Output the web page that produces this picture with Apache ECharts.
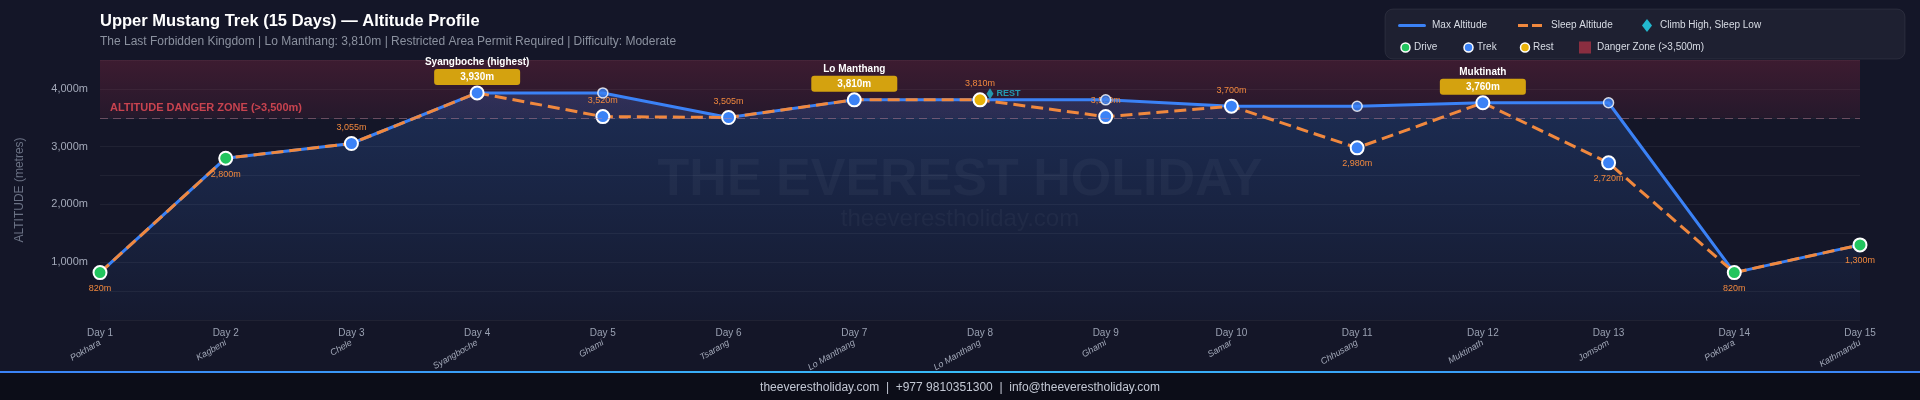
<!DOCTYPE html>
<html>
<head>
<meta charset="utf-8">
<script src="https://cdn.jsdelivr.net/npm/echarts@6/dist/echarts.min.js"></script>
<style>
html,body{margin:0;padding:0;background:#141628;}
#chart{width:1920px;height:400px;}
</style>
</head>
<body>
<div id="chart"></div>
<script>
// ---- data ----
const days = ['Day 1','Day 2','Day 3','Day 4','Day 5','Day 6','Day 7','Day 8','Day 9','Day 10','Day 11','Day 12','Day 13','Day 14','Day 15'];
const places = ['Pokhara','Kagbeni','Chele','Syangboche','Ghami','Tsarang','Lo Manthang','Lo Manthang','Ghami','Samar','Chhusang','Muktinath','Jomsom','Pokhara','Kathmandu'];
const maxAltitude = [820,2800,3055,3930,3930,3505,3810,3810,3810,3700,3700,3760,3760,820,1300];
const sleepAltitude = [820,2800,3055,3930,3520,3505,3810,3810,3520,3700,2980,3760,2720,820,1300];
const dayType = ['drive','drive','trek','trek','trek','trek','trek','rest','trek','trek','trek','trek','trek','drive','drive'];
const badgeTitles = ['','','','Syangboche (highest)','','','Lo Manthang','','','','','Muktinath','','',''];
const dangerLevel = 3500;
const yTicks = [1000,2000,3000,4000];

// ---- styling / building ----
const FONT = 'Liberation Sans, Arial, Helvetica, sans-serif';
const typeColor = {drive:'#22c55e', trek:'#3b82f6', rest:'#eab308'};
const ORANGE = '#f0883e';
const BLUE = '#3b82f6';
const fmt = v => v.toLocaleString('en-US') + 'm';
const belowIdx = new Set([0,1,10,12,13,14]);

const sleepData = sleepAltitude.map((v,i) => {
  const item = {value:v, itemStyle:{color:typeColor[dayType[i]]}};
  if (badgeTitles[i]) {
    item.label = {
      show:true, position:'top', distance:3,
      formatter:'{t|' + badgeTitles[i] + '}\n{b|' + fmt(v) + '}',
      rich:{
        t:{fontSize:10, fontWeight:'bold', color:'#ffffff', fontFamily:FONT, lineHeight:19, align:'center'},
        b:{fontSize:10, fontWeight:'bold', color:'#ffffff', fontFamily:FONT, backgroundColor:'#d4a20f',
           width:78, padding:[3,4], borderRadius:3, lineHeight:11, align:'center'}
      }
    };
  } else {
    item.label = {show:true, position: belowIdx.has(i) ? 'bottom' : 'top', distance:4,
      formatter: fmt(v), color:ORANGE, fontSize:9, fontFamily:FONT};
  }
  return item;
});

const maxPoints = [];
maxAltitude.forEach((v,i) => { if (v !== sleepAltitude[i]) maxPoints.push([i, v]); });
const restPoints = [];
dayType.forEach((t,i) => { if (t === 'rest') restPoints.push([i, sleepAltitude[i]]); });

const chart = echarts.init(document.getElementById('chart'), null, {renderer:'canvas'});

const legendG = [];
const r1 = 25.5, r2 = 47.5;
const txt = (x,y,t) => ({type:'text', x:x, y:y, style:{text:t, fill:'#d8dce5', font:'10px ' + FONT, verticalAlign:'middle'}});
legendG.push({type:'rect', shape:{x:1385,y:9,width:520,height:50,r:8}, style:{fill:'rgba(255,255,255,0.045)', stroke:'rgba(255,255,255,0.07)', lineWidth:1}});
legendG.push({type:'rect', shape:{x:1398,y:r1-1.5,width:28,height:3,r:1.5}, style:{fill:BLUE}});
legendG.push(txt(1432,r1,'Max Altitude'));
legendG.push({type:'rect', shape:{x:1518,y:r1-1.5,width:10,height:3}, style:{fill:ORANGE}});
legendG.push({type:'rect', shape:{x:1532,y:r1-1.5,width:10,height:3}, style:{fill:ORANGE}});
legendG.push(txt(1551,r1,'Sleep Altitude'));
legendG.push({type:'polygon', shape:{points:[[1647,r1-6.5],[1652,r1],[1647,r1+6.5],[1642,r1]]}, style:{fill:'#22b8cf'}});
legendG.push(txt(1660,r1,'Climb High, Sleep Low'));
legendG.push({type:'circle', shape:{cx:1405.5,cy:r2,r:4.5}, style:{fill:typeColor.drive, stroke:'#ffffff', lineWidth:1.5}});
legendG.push(txt(1414,r2,'Drive'));
legendG.push({type:'circle', shape:{cx:1468.5,cy:r2,r:4.5}, style:{fill:typeColor.trek, stroke:'#ffffff', lineWidth:1.5}});
legendG.push(txt(1477,r2,'Trek'));
legendG.push({type:'circle', shape:{cx:1525,cy:r2,r:4.5}, style:{fill:typeColor.rest, stroke:'#ffffff', lineWidth:1.5}});
legendG.push(txt(1533,r2,'Rest'));
legendG.push({type:'rect', shape:{x:1579,y:r2-6,width:12,height:12}, style:{fill:'#8a2e40'}});
legendG.push(txt(1597,r2,'Danger Zone (>3,500m)'));

const option = {
  backgroundColor:'#141628',
  animation:false,
  textStyle:{fontFamily:FONT},
  title:{
    text:'Upper Mustang Trek (15 Days) — Altitude Profile',
    subtext:'The Last Forbidden Kingdom | Lo Manthang: 3,810m | Restricted Area Permit Required | Difficulty: Moderate',
    left:100, top:13, itemGap:6, padding:0,
    textStyle:{color:'#ffffff', fontSize:16.5, fontWeight:'bold', fontFamily:FONT},
    subtextStyle:{color:'#8b919f', fontSize:12, fontFamily:FONT}
  },
  graphic:[
    {type:'text', z:0, left:'center', top:155, style:{text:'THE EVEREST HOLIDAY', fill:'rgba(255,255,255,0.04)', font:'bold 52px ' + FONT}},
    {type:'text', z:0, left:'center', top:207, style:{text:'theeverestholiday.com', fill:'rgba(255,255,255,0.04)', font:'24px ' + FONT}},
    {type:'rect', z:0, shape:{x:0,y:372,width:1920,height:28}, style:{fill:'#0c0d18'}},
    {type:'rect', z:0, shape:{x:0,y:371,width:1920,height:2}, style:{fill:new echarts.graphic.LinearGradient(0,0,1,0,[{offset:0,color:'#3b82f6'},{offset:0.5,color:'#38bdf8'},{offset:1,color:'#3b82f6'}])}},
    {type:'text', z:0, left:'center', top:382, style:{text:'theeverestholiday.com  |  +977 9810351300  |  info@theeverestholiday.com', fill:'#c3c8d4', font:'12px ' + FONT}},
    {type:'group', z:10, children:legendG}
  ],
  grid:{left:100, right:60, top:60, bottom:80},
  xAxis:[
    {type:'category', data:days, boundaryGap:false, axisLine:{show:false}, axisTick:{show:false}, splitLine:{show:false},
     axisLabel:{color:'#9aa1b2', fontSize:10, margin:8, interval:0, fontFamily:FONT}},
    {type:'category', data:places, boundaryGap:false, position:'bottom', axisLine:{show:false}, axisTick:{show:false}, splitLine:{show:false},
     axisLabel:{color:'#a3a9b9', fontSize:9, margin:22, rotate:30, interval:0, fontStyle:'italic', fontFamily:FONT}}
  ],
  yAxis:{
    type:'value', min:0, max:4500, interval:500,
    name:'ALTITUDE (metres)', nameLocation:'middle', nameGap:74,
    nameTextStyle:{color:'#6b7285', fontSize:12, fontFamily:FONT},
    axisLine:{show:false}, axisTick:{show:false},
    axisLabel:{color:'#a3a9b9', fontSize:11, margin:12, fontFamily:FONT, formatter:v => yTicks.includes(v) ? fmt(v) : ''},
    splitLine:{lineStyle:{color:'rgba(255,255,255,0.055)', width:1}}
  },
  series:[
    {
      name:'Max Altitude', type:'line', data:maxAltitude, z:2, showSymbol:false,
      lineStyle:{color:BLUE, width:3}, itemStyle:{color:BLUE},
      areaStyle:{color:new echarts.graphic.LinearGradient(0,0,0,1,[{offset:0,color:'rgba(59,130,246,0.3)'},{offset:1,color:'rgba(59,130,246,0.05)'}])},
      markArea:{silent:true, data:[[{yAxis:dangerLevel},{yAxis:4500}]],
        itemStyle:{color:new echarts.graphic.LinearGradient(0,0,0,1,[{offset:0,color:'rgba(190,45,75,0.24)'},{offset:1,color:'rgba(190,45,75,0.1)'}])}},
      markLine:{silent:true, symbol:'none', data:[{yAxis:dangerLevel}],
        lineStyle:{color:'rgba(200,130,150,0.45)', type:[8,5], width:1.2},
        label:{show:true, position:'insideStartTop', distance:[10,4], formatter:'ALTITUDE DANGER ZONE (>3,500m)', color:'#c8434f', fontSize:11, fontWeight:'bold', fontFamily:FONT}}
    },
    {
      name:'Sleep Altitude', type:'line', data:sleepData, z:3, showAllSymbol:true,
      symbol:'circle', symbolSize:13,
      lineStyle:{color:ORANGE, width:3, type:[12,6]},
      itemStyle:{borderColor:'#ffffff', borderWidth:2}
    },
    {
      name:'Max Altitude Points', type:'scatter', data:maxPoints, z:4, symbol:'circle', symbolSize:10,
      itemStyle:{color:BLUE, borderColor:'#ffffff', borderWidth:1.5}
    },
    {
      name:'Climb High, Sleep Low', type:'scatter', data:restPoints, z:5, symbol:'diamond', symbolSize:[7,11], symbolOffset:[10,-6],
      itemStyle:{color:'#22b8cf'},
      label:{show:true, position:'right', distance:3, formatter:'REST', color:'#22b8cf', fontSize:9, fontWeight:'bold', fontFamily:FONT}
    }
  ]
};
chart.setOption(option);
</script>
</body>
</html>
